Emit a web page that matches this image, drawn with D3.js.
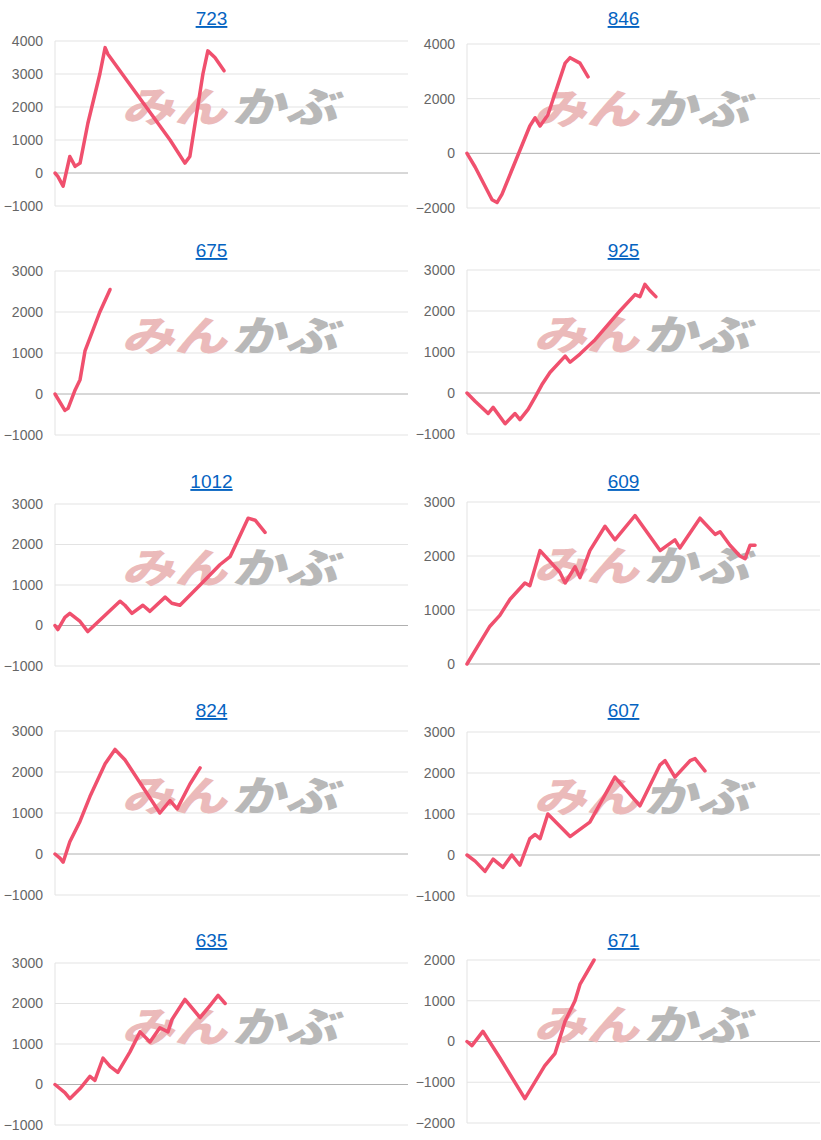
<!DOCTYPE html>
<html><head><meta charset="utf-8">
<script src="https://cdn.jsdelivr.net/npm/d3@7"></script>
<style>body{margin:0;background:#fff;font-family:"Liberation Sans",Arial,sans-serif}</style>
</head><body><svg id="c" width="821" height="1140"></svg>
<script>
// chart titles
var titles = ["723","846","675","925","1012","609","824","607","635","671"];
// y axis ticks per chart
var yTicks = [
  [-1000,0,1000,2000,3000,4000],
  [-2000,0,2000,4000],
  [-1000,0,1000,2000,3000],
  [-1000,0,1000,2000,3000],
  [-1000,0,1000,2000,3000],
  [0,1000,2000,3000],
  [-1000,0,1000,2000,3000],
  [-1000,0,1000,2000,3000],
  [-1000,0,1000,2000,3000],
  [-2000,-1000,0,1000,2000]
];
// step positions (out of 100) and cumulative values
var steps = [
  [0,0.8,2.3,4.2,5.7,7.1,9.3,12.7,14.2,15,32.6,36.8,38.2,41.9,43.3,45.3,47.9],
  [0,2.3,7.1,8.5,9.9,17.8,19.3,20.7,22.9,27.8,29.2,32,34.3],
  [0,2.8,3.7,5.7,7.1,8.5,12.7,15.6],
  [0,2.3,6,7.4,10.8,13.6,15,17.3,19.3,21.2,23.5,27.8,29.2,32,36.3,43.3,47.6,49,50.4,51.8,53.5],
  [0,0.8,2.8,4.2,7.1,9.3,10.5,18.4,19.8,21.8,24.9,26.9,31.2,33.1,35.4,41.1,46.7,49.6,54.7,56.7,59.5],
  [0,3.7,6.5,9.3,12.2,16.4,17.8,20.7,26.3,27.8,30.6,32,34.8,39.1,41.9,47.6,54.7,58.9,60.3,66,70.3,71.7,74.5,77.3,78.8,80.2,81.6],
  [0,1.4,2.3,4.2,7.1,9.9,14.2,17,19.8,29.7,32.6,34.6,38.2,41.1],
  [0,2.3,5.1,7.4,10.2,12.7,15,17.8,19.3,20.7,22.9,29.2,34.8,41.9,49,54.7,56.1,58.9,63.2,64.6,67.4],
  [0,2.8,4.2,7.1,9.9,11.3,13.6,15.6,17.8,21.2,24.1,26.9,29.7,32,33.1,36.8,41.1,43.9,46.2,48.2],
  [0,1.4,4.5,9.3,16.4,22,24.9,27.8,30.6,32,36]
];
var values = [
  [0,-100,-400,500,200,300,1500,3000,3800,3600,1000,300,500,3000,3700,3500,3100],
  [0,-500,-1700,-1800,-1500,1000,1300,1000,1400,3300,3500,3300,2800],
  [0,-400,-350,100,350,1050,2000,2550],
  [0,-200,-500,-350,-750,-500,-650,-400,-100,200,500,900,750,950,1300,2000,2400,2350,2650,2500,2350],
  [0,-100,200,300,100,-150,-50,600,500,300,500,350,700,550,500,1000,1500,1700,2650,2600,2300],
  [0,400,700,900,1200,1500,1450,2100,1700,1500,1800,1600,2100,2550,2300,2750,2100,2300,2150,2700,2400,2450,2200,2000,1950,2200,2200],
  [0,-100,-200,300,800,1400,2200,2550,2300,1000,1300,1100,1700,2100],
  [0,-150,-400,-100,-300,0,-250,400,500,400,1000,450,800,1900,1200,2200,2300,1900,2300,2350,2050],
  [0,-200,-350,-100,200,100,650,450,300,800,1300,1050,1400,1300,1600,2100,1650,1950,2200,2000],
  [0,-100,250,-400,-1400,-600,-300,500,1000,1400,2000]
];

var svg = d3.select("#c");
var colX = [[55,408],[467,820]];
var titleY = [18,250,481,710,940];
var plotY = [[41,206],[271,435],[504,666],[731,895],[963,1125]];
var rightY = [[44,208],[270,434],[502,664],[732,896],[960,1123]];

titles.forEach(function(t,i){
  var col = i%2, row = Math.floor(i/2);
  var xr = colX[col], yr = col ? rightY[row] : plotY[row];
  var tk = yTicks[i];
  var x = d3.scaleLinear().domain([0,100]).range(xr);
  var y = d3.scaleLinear().domain([tk[0], tk[tk.length-1]]).range([yr[1], yr[0]]);
  var g = svg.append("g");

  g.selectAll(".grid").data(tk).enter().append("line")
    .attr("x1",xr[0]).attr("x2",xr[1])
    .attr("y1",d=>y(d)).attr("y2",d=>y(d))
    .attr("stroke",d=>d===0?"#b0b0b0":"#e3e3e3").attr("stroke-width",1);
  g.append("line").attr("x1",xr[0]).attr("x2",xr[0]).attr("y1",yr[0]).attr("y2",yr[1])
    .attr("stroke","#e3e3e3");
  var yAxis = d3.axisLeft(y).tickValues(tk).tickSize(0).tickPadding(12).tickFormat(d3.format("d"));
  var ax = g.append("g").attr("transform","translate("+xr[0]+",0)").call(yAxis);
  ax.select(".domain").remove();
  ax.selectAll("text").attr("fill","#666").style("font-size","14px").style("font-family","Liberation Sans, Arial");

  g.append("text").attr("x",(xr[0]+xr[1])/2-20).attr("y",titleY[row]+7)
    .attr("text-anchor","middle").attr("fill","#0563c1").style("font-size","19px")
    .style("text-decoration","underline").text(t);

  // watermark
  var wx = (xr[0]+xr[1])/2 - 2, wy = (yr[0]+yr[1])/2 - 2;
  var wm = g.append("g").attr("transform","translate("+wx+","+wy+") skewX(-15) scale(1.15,0.9)");
  wm.append("text").attr("x",-2).attr("y",0).attr("text-anchor","end")
    .attr("fill","#ebbaba").style("font-size","46px").style("font-family","Noto Sans CJK JP")
    .style("font-weight","900").text("みん");
  wm.append("text").attr("x",2).attr("y",0).attr("fill","#b8b8b8").style("font-size","46px")
    .style("font-family","Noto Sans CJK JP").style("font-weight","900").text("かぶ");

  var pts = d3.zip(steps[i], values[i]);
  g.append("path").datum(pts)
    .attr("d", d3.line().x(d=>x(d[0])).y(d=>y(d[1])))
    .attr("fill","none").attr("stroke","#f0506e").attr("stroke-width",3.5)
    .attr("stroke-linejoin","round").attr("stroke-linecap","round");
});
</script></body></html>
